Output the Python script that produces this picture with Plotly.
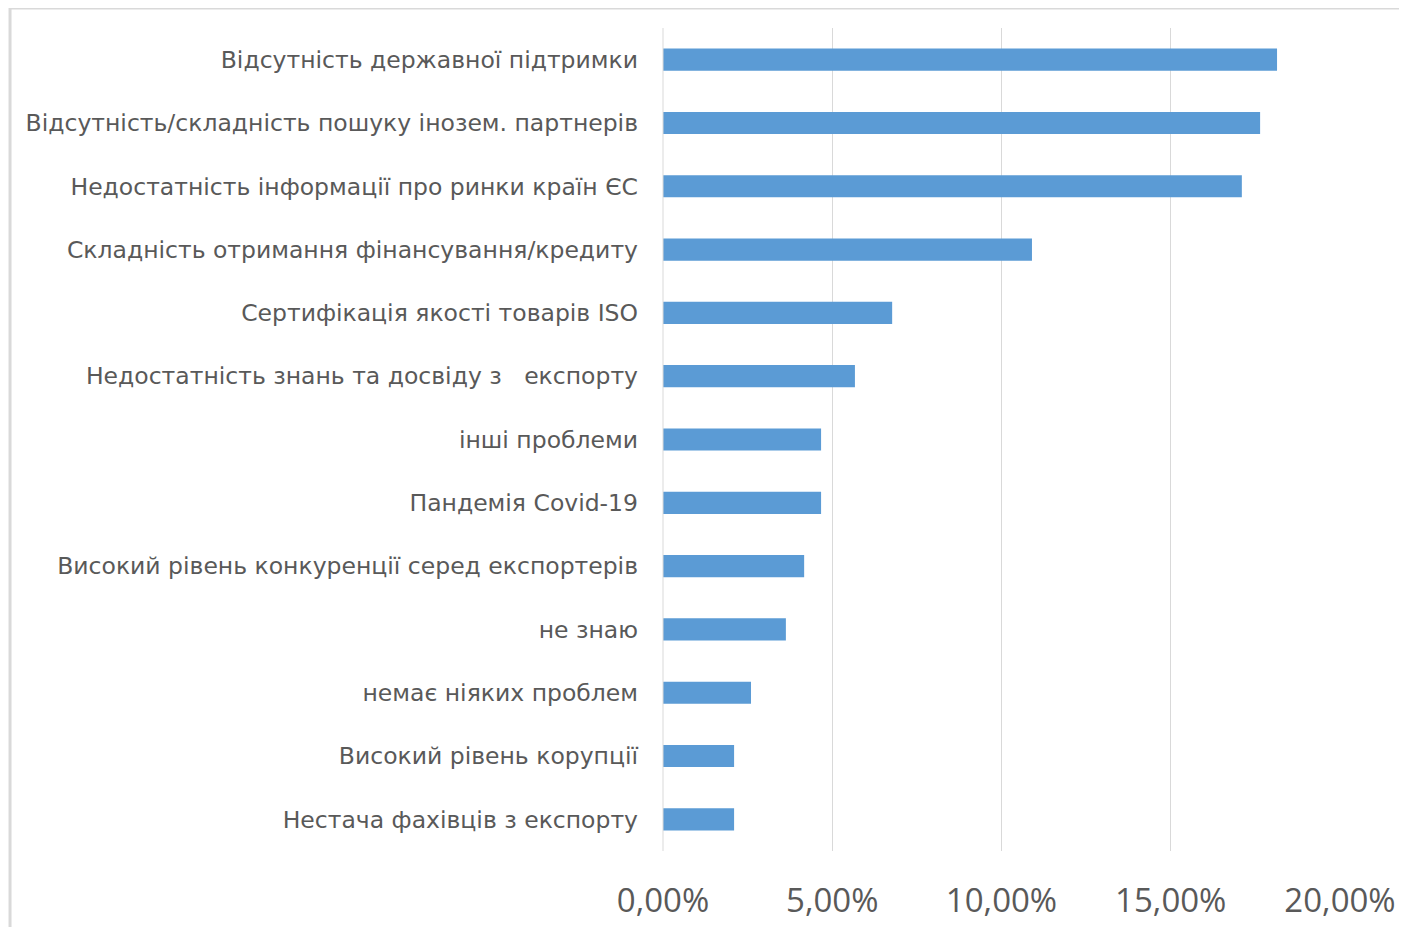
import plotly.graph_objects as go

categories = [
    "Відсутність державної підтримки",
    "Відсутність/складність пошуку інозем. партнерів",
    "Недостатність інформації про ринки країн ЄС",
    "Складність отримання фінансування/кредиту",
    "Сертифікація якості товарів ISO",
    "Недостатність знань та досвіду з   експорту",
    "інші проблеми",
    "Пандемія Covid-19",
    "Високий рівень конкуренції серед експортерів",
    "не знаю",
    "немає ніяких проблем",
    "Високий рівень корупції",
    "Нестача фахівців з експорту",
]
values = [0.1814, 0.1764, 0.1710, 0.1090, 0.0677, 0.0567, 0.0467, 0.0467, 0.0417, 0.0363, 0.0260, 0.0210, 0.0210]
x_ticks = [0, 0.05, 0.10, 0.15, 0.20]

fig = go.Figure()

fig.add_trace(
    go.Bar(
        x=values,
        y=categories,
        orientation="h",
        marker=dict(color="#5b9bd5", line=dict(width=0)),
        width=0.35,
    )
)

# page body has an 8px margin, so the figure is drawn 8px in from the window edge
fig.update_layout(
    width=1399,
    height=919,
    margin=dict(l=655, r=67, t=20, b=76),
    plot_bgcolor="white",
    paper_bgcolor="white",
    separators=",.",
    showlegend=False,
    font=dict(family="Open Sans, sans-serif", color="#595959"),
    xaxis=dict(
        range=[0, 0.2],
        tickvals=x_ticks,
        tickformat=".2%",
        showgrid=True,
        gridcolor="#d9d9d9",
        gridwidth=1,
        zeroline=False,
        showline=False,
        automargin=False,
        tickfont=dict(size=33),
        ticklabelstandoff=27,
    ),
    yaxis=dict(
        categoryorder="array",
        categoryarray=categories[::-1],
        showgrid=False,
        zeroline=False,
        showline=False,
        automargin=False,
        tickfont=dict(family="DejaVu Sans, sans-serif", size=23.5),
        ticklabelstandoff=24,
    ),
    shapes=[
        dict(type="line", xref="paper", yref="paper", x0=0, x1=0, y0=0, y1=1,
             line=dict(color="#d9d9d9", width=1)),
        dict(type="rect", xref="paper", yref="paper", x0=-0.9645, x1=1.2, y0=-0.2, y1=1.0243,
             line=dict(color="#d9d9d9", width=3)),
    ],
)

fig.write_html("out.html")
